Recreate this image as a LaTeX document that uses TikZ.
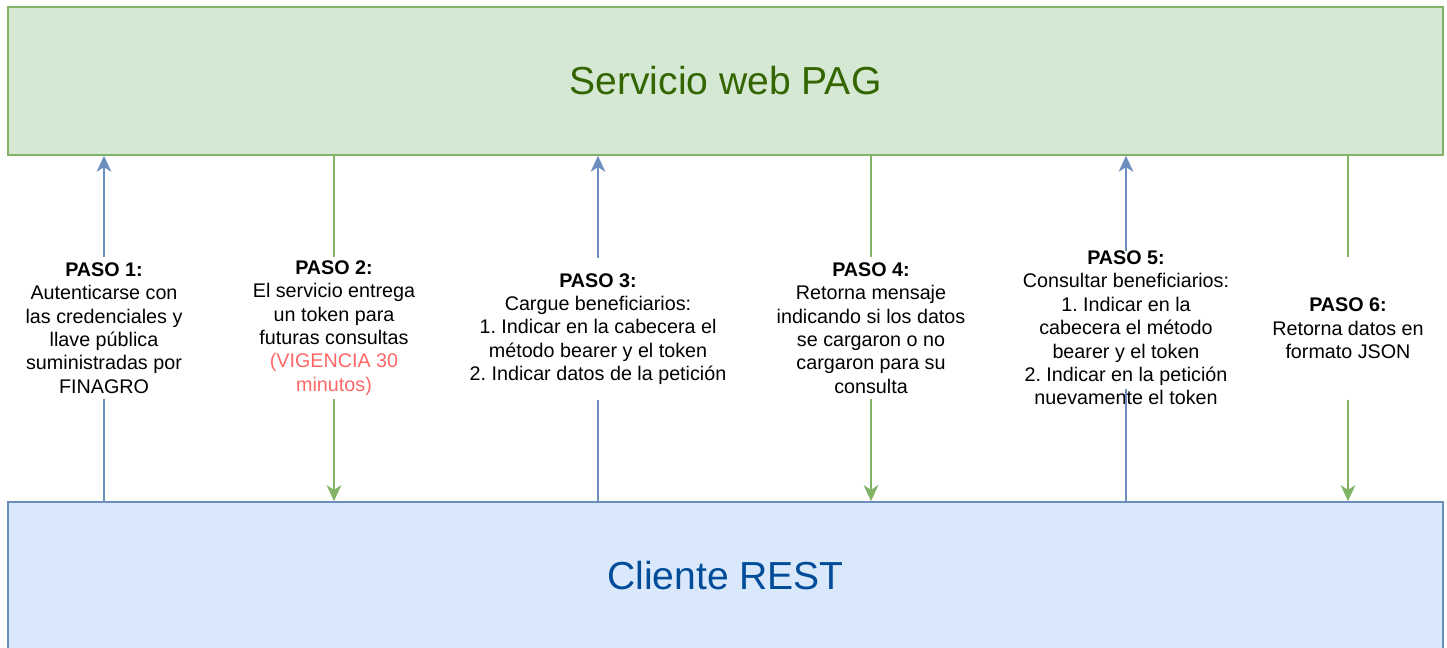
\documentclass[tikz,border=0pt]{standalone}
\usepackage{fontspec}
\setmainfont{Liberation Sans}
\frenchspacing
\usetikzlibrary{arrows.meta}
\definecolor{verdefondo}{HTML}{D5E8D4}
\definecolor{verdeborde}{HTML}{82B366}
\definecolor{verdetexto}{HTML}{336600}
\definecolor{azulfondo}{HTML}{DAE8FC}
\definecolor{azulborde}{HTML}{6C8EBF}
\definecolor{azultexto}{HTML}{004C99}
\definecolor{rojo}{HTML}{FF6666}
\tikzstyle{caja}=[draw, line width=1.2pt, minimum width=1076.25pt, minimum height=111pt, inner sep=0pt, font=\fontsize{29.3}{35}\selectfont]
\tikzstyle{paso}=[align=center, inner sep=0pt, minimum height=106.5pt, font=\fontsize{14.8}{17.55}\selectfont]
\tikzstyle{sube}=[azulborde, line width=1.2pt]
\tikzstyle{baja}=[verdeborde, line width=1.2pt]

\begin{document}
\begin{tikzpicture}[x=0.75pt, y=-0.75pt, >={Stealth[length=12pt, width=11pt, inset=3.5pt]}]
    \useasboundingbox (0,0) rectangle (1447,648);
    \clip (0,0) rectangle (1447,648);
% Cajas
    \node[caja, fill=verdefondo, draw=verdeborde, text=verdetexto] (pag) at (725.5,81) {Servicio web PAG};
    \node[caja, fill=azulfondo, draw=azulborde, text=azultexto] (cliente) at (725.5,576) {Cliente REST};
% Pasos
    \node[paso] (paso1) at (104,328) {\textbf{PASO 1:}\\Autenticarse con\\las credenciales y\\llave pública\\suministradas por\\FINAGRO};
    \node[paso] (paso2) at (334,328) {\textbf{PASO 2:}\\El servicio entrega\\un token para\\futuras consultas\\{\color{rojo}(VIGENCIA 30}\\{\color{rojo}minutos)}};
    \node[paso] (paso3) at (598,329) {\textbf{PASO 3:}\\Cargue beneficiarios:\\1. Indicar en la cabecera el\\método bearer y el token\\2. Indicar datos de la petición};
    \node[paso] (paso4) at (871,328) {\textbf{PASO 4:}\\Retorna mensaje\\indicando si los datos\\se cargaron o no\\cargaron para su\\consulta};
    \node[paso] (paso5) at (1126,328) {\textbf{PASO 5:}\\Consultar beneficiarios:\\1. Indicar en la\\cabecera el método\\bearer y el token\\2. Indicar en la petición\\nuevamente el token};
    \node[paso] (paso6) at (1348,328.5) {\textbf{PASO 6:}\\Retorna datos en\\formato JSON};
% Peticiones del cliente
    \draw[sube] (cliente.north -| paso1) -- (paso1.south);
    \draw[sube, ->] (paso1.north) -- (pag.south -| paso1);
    \draw[sube] (cliente.north -| paso3) -- (paso3.south);
    \draw[sube, ->] (paso3.north) -- (pag.south -| paso3);
    \draw[sube] (cliente.north -| paso5) -- ([yshift=12pt]paso5.south);
    \draw[sube, ->] (paso5.north) -- (pag.south -| paso5);
% Respuestas del servicio
    \draw[baja] (pag.south -| paso2) -- (paso2.north);
    \draw[baja, ->] (paso2.south) -- (cliente.north -| paso2);
    \draw[baja] (pag.south -| paso4) -- (paso4.north);
    \draw[baja, ->] (paso4.south) -- (cliente.north -| paso4);
    \draw[baja] (pag.south -| paso6) -- (paso6.north);
    \draw[baja, ->] (paso6.south) -- (cliente.north -| paso6);
\end{tikzpicture}
\end{document}
